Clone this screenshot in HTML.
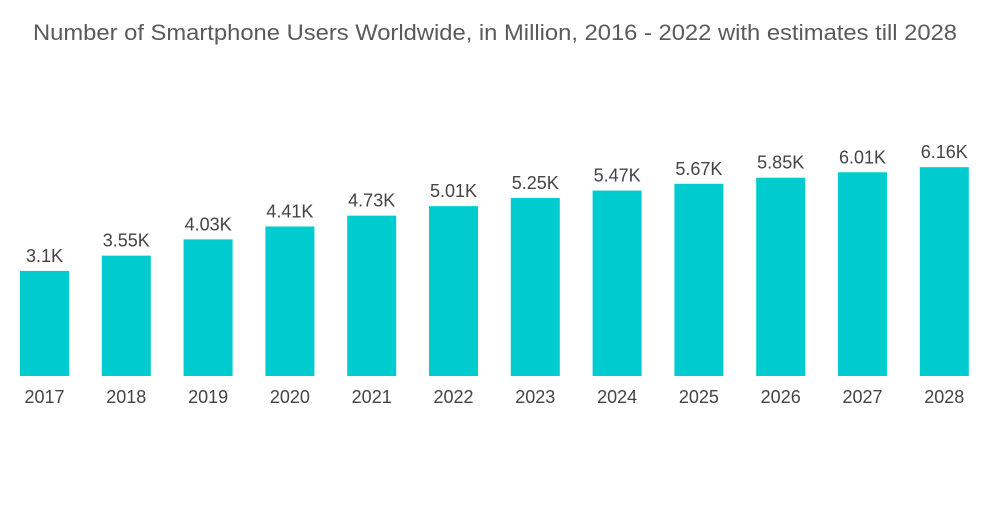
<!DOCTYPE html>
<html><head><meta charset="utf-8"><style>
body{margin:0;background:#fff;width:1000px;height:504px;overflow:hidden;font-family:"Liberation Sans",sans-serif}
</style></head><body>
<svg width="1000" height="504">
<text x="33" y="40" font-size="22" textLength="924" lengthAdjust="spacingAndGlyphs" fill="#5a5a5a">Number of Smartphone Users Worldwide, in Million, 2016 - 2022 with estimates till 2028</text>
<g id="bars"></g>
</svg>
<script>
const categories=["2017","2018","2019","2020","2021","2022","2023","2024","2025","2026","2027","2028"];
const values=[3.1,3.55,4.03,4.41,4.73,5.01,5.25,5.47,5.67,5.85,6.01,6.16];
const labels=["3.1K","3.55K","4.03K","4.41K","4.73K","5.01K","5.25K","5.47K","5.67K","5.85K","6.01K","6.16K"];
const g=document.getElementById('bars');
const ns="http://www.w3.org/2000/svg";
const base=376, scale=33.9, x0=20, step=81.8, bw=49;
function xPos(i){return x0+i*step;}
function yPos(v){return base-v*scale;}
values.forEach((v,i)=>{
 const r=document.createElementNS(ns,'rect');
 r.setAttribute('x',xPos(i));r.setAttribute('y',yPos(v));r.setAttribute('width',bw);r.setAttribute('height',base-yPos(v));r.setAttribute('fill','#00cccf');
 
 
 g.appendChild(r);
 const t=document.createElementNS(ns,'text');
 t.setAttribute('x',xPos(i)+bw/2);t.setAttribute('y',yPos(v)-9);t.setAttribute('text-anchor','middle');t.setAttribute('font-size','18');t.setAttribute('fill','#444');
 t.textContent=labels[i];
 
 
 g.appendChild(t);
 const c=document.createElementNS(ns,'text');
 c.setAttribute('x',xPos(i)+bw/2);c.setAttribute('y',403);c.setAttribute('text-anchor','middle');c.setAttribute('font-size','18');c.setAttribute('fill','#444');
 c.textContent=categories[i];
 
 
 g.appendChild(c);
});
</script>
</body></html>
